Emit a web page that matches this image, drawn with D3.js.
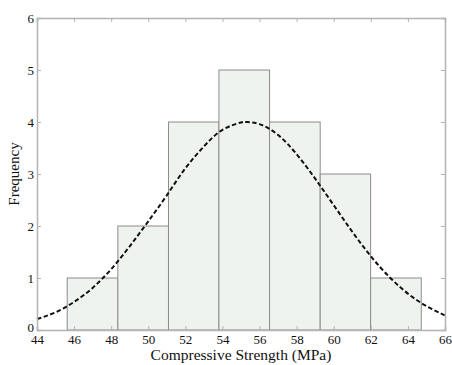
<!DOCTYPE html>
<html>
<head>
<meta charset="utf-8">
<script src="https://cdn.jsdelivr.net/npm/d3@7"></script>
<style>
  body { margin: 0; background: #fff; }
  text { font-family: "Liberation Serif", "DejaVu Serif", serif; fill: #111; }
</style>
</head>
<body>
<div id="chart"></div>
<script>
// histogram bins (left and right edges) and counts
const binStart = [45.63, 48.36, 51.09, 53.81, 56.54, 59.27, 61.99];
const binEnd   = [48.36, 51.09, 53.81, 56.54, 59.27, 61.99, 64.72];
const counts   = [1, 2, 4, 5, 4, 3, 1];

// fitted curve
const curveX = [44, 45, 46, 47, 48, 49, 50, 51, 52, 53, 54, 55, 55.3, 56, 57, 58, 59, 60, 61, 62, 63, 64, 65, 66];
const curveY = [0.21, 0.34, 0.54, 0.81, 1.17, 1.61, 2.09, 2.59, 3.11, 3.53, 3.85, 3.99, 4.0, 3.96, 3.75, 3.38, 2.91, 2.40, 1.89, 1.42, 1.02, 0.70, 0.46, 0.28];

const xTicks = [44, 46, 48, 50, 52, 54, 56, 58, 60, 62, 64, 66];
const yTicks = [0, 1, 2, 3, 4, 5, 6];

const W = 452, H = 365;
const m = {top: 18, right: 7, bottom: 35, left: 37};

const svg = d3.select("#chart").append("svg")
    .attr("width", W)
    .attr("height", H);

const x = d3.scaleLinear().domain([44, 66]).range([m.left, W - m.right]);
const y = d3.scaleLinear().domain([0, 6]).range([H - m.bottom, m.top]);

// bars
svg.selectAll("rect.bar")
    .data(counts)
    .enter()
    .append("rect")
    .attr("class", "bar")
    .attr("x", (d, i) => x(binStart[i]))
    .attr("width", (d, i) => x(binEnd[i]) - x(binStart[i]))
    .attr("y", d => y(d))
    .attr("height", d => y(0) - y(d))
    .attr("fill", "#eef3f0")
    .attr("stroke", "#8c8c8c")
    .attr("stroke-width", 1);

// dashed fit line
const line = d3.line()
    .x((d, i) => x(curveX[i]))
    .y(d => y(d))
    .curve(d3.curveNatural);

svg.append("path")
    .datum(curveY)
    .attr("d", line)
    .attr("fill", "none")
    .attr("stroke", "#111")
    .attr("stroke-width", 2)
    .attr("stroke-dasharray", "4.5,2.5");

// axes box with inward ticks
const axCol = "#b4b4b4";
const axB = svg.append("g")
    .attr("transform", "translate(0," + y(0) + ")")
    .call(d3.axisBottom(x).tickValues(xTicks).tickSize(-4).tickPadding(5));
const axT = svg.append("g")
    .attr("transform", "translate(0," + y(6) + ")")
    .call(d3.axisTop(x).tickValues(xTicks).tickSize(-4).tickFormat(""));
const axL = svg.append("g")
    .attr("transform", "translate(" + x(44) + ",0)")
    .call(d3.axisLeft(y).tickValues(yTicks).tickSize(-4).tickPadding(3).tickFormat(d3.format("d")));
const axR = svg.append("g")
    .attr("transform", "translate(" + x(66) + ",0)")
    .call(d3.axisRight(y).tickValues(yTicks).tickSize(-4).tickFormat(""));

[axB, axT, axL, axR].forEach(g => {
    g.attr("font-family", null);
    g.select(".domain").attr("stroke", axCol).attr("stroke-width", 1.5);
    g.selectAll(".tick line").attr("stroke", axCol);
    g.selectAll("text")
        .style("font-family", "'Liberation Serif', 'DejaVu Serif', serif")
        .style("font-size", "13px")
        .attr("fill", "#111");
});
// the zero label sits a little higher, clear of the 44
axL.selectAll(".tick text").filter(d => d === 0).attr("dy", "0.1em");

// axis titles
svg.append("text")
    .attr("x", x(55))
    .attr("y", H - 5)
    .attr("text-anchor", "middle")
    .style("font-size", "15.5px")
    .text("Compressive Strength (MPa)");

svg.append("text")
    .attr("transform", "translate(19," + (y(3)) + ") rotate(-90)")
    .attr("text-anchor", "middle")
    .style("font-size", "15px")
    .text("Frequency");
</script>
</body>
</html>
